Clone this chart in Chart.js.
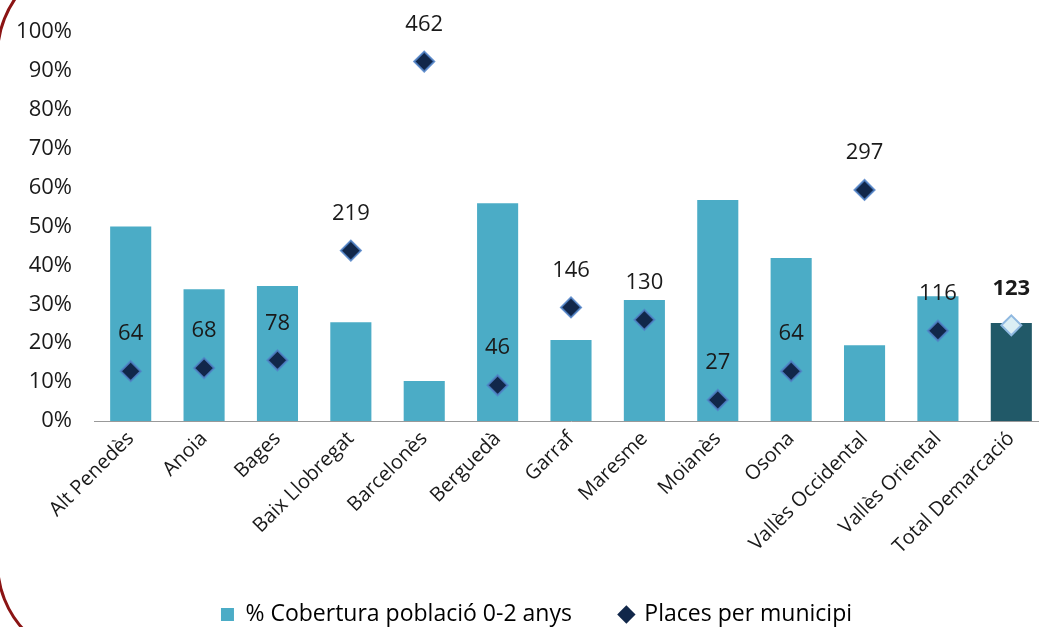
<!DOCTYPE html>
<html>
<head>
<meta charset="utf-8">
<script src="https://cdn.jsdelivr.net/npm/chart.js@4"></script>
<style>
html, body { margin: 0; padding: 0; background: #fff; overflow: hidden; }
#wrap { position: relative; width: 1060px; height: 636px; }
#frame {
  position: absolute; left: -4px; top: -45px; width: 1300px; height: 702px;
  border: 3px solid #8b1414; border-radius: 100px; pointer-events: none;
}
</style>
</head>
<body>
<div id="wrap">
  <canvas id="chart" width="1060" height="636"></canvas>
  <div id="frame"></div>
</div>
<script>
// categories
const comarques = ['Alt Penedès', 'Anoia', 'Bages', 'Baix Llobregat', 'Barcelonès', 'Berguedà',
  'Garraf', 'Maresme', 'Moianès', 'Osona', 'Vallès Occidental', 'Vallès Oriental', 'Total Demarcació'];

// % coverage of population 0-2 years
const cobertura = [50.0, 33.9, 34.7, 25.4, 10.3, 56.0, 20.8, 31.1, 56.8, 41.9, 19.5, 32.1, 25.2];

// places per municipality (plotted on hidden 0-500 axis)
const places = [64, 68, 78, 219, 462, 46, 146, 130, 27, 64, 297, 116, 123];

const yTicks = [0, 10, 20, 30, 40, 50, 60, 70, 80, 90, 100];

const barColors = comarques.map((c, i) => i === comarques.length - 1 ? '#215968' : '#4bacc6');
const diaFill = comarques.map((c, i) => i === comarques.length - 1 ? '#dbeef4' : '#11274a');
const diaBorder = comarques.map((c, i) => i === comarques.length - 1 ? '#8fb8e0' : 'rgba(80,130,200,0.85)');

const font = '"Open Sans", Lato, sans-serif';

// labels above the diamonds
const valueLabels = {
  id: 'valueLabels',
  afterDatasetsDraw(chart) {
    const ctx = chart.ctx;
    const meta = chart.getDatasetMeta(1);
    ctx.save();
    ctx.textAlign = 'center';
    ctx.textBaseline = 'middle';
    ctx.fillStyle = '#1a1a1a';
    meta.data.forEach((pt, i) => {
      const last = i === places.length - 1;
      ctx.font = (last ? 'bold ' : '') + '22px ' + font;
      ctx.fillText(String(places[i]), pt.x, pt.y - 37);
    });
    ctx.restore();
  }
};

new Chart(document.getElementById('chart'), {
  type: 'bar',
  data: {
    labels: comarques,
    datasets: [{
      label: '% Cobertura població 0-2 anys',
      data: cobertura,
      backgroundColor: barColors,
      barPercentage: 0.56,
      categoryPercentage: 1,
      pointStyle: 'rect',
      yAxisID: 'y',
      order: 2
    }, {
      type: 'line',
      label: 'Places per municipi',
      data: places,
      showLine: false,
      pointStyle: 'rectRot',
      pointRadius: 10,
      pointHoverRadius: 10,
      pointBackgroundColor: diaFill,
      pointBorderColor: diaBorder,
      pointBorderWidth: 2,
      backgroundColor: '#11274a',
      borderColor: '#11274a',
      yAxisID: 'y2',
      order: 1
    }]
  },
  options: {
    responsive: false,
    animation: false,
    layout: { padding: { top: 32, right: 4, left: 17, bottom: 0 } },
    plugins: {
      tooltip: { enabled: false },
      legend: {
        position: 'bottom',
        labels: {
          usePointStyle: true,
          boxWidth: 13,
          boxHeight: 13,
          padding: 48,
          color: '#222',
          font: { family: font, size: 23 },
          generateLabels(chart) {
            return chart.data.datasets.map((ds, i) => ({
              text: ds.label,
              fillStyle: i === 0 ? '#4bacc6' : '#11274a',
              strokeStyle: i === 0 ? '#4bacc6' : '#11274a',
              lineWidth: 0,
              pointStyle: ds.pointStyle,
              datasetIndex: i
            }));
          }
        }
      }
    },
    scales: {
      x: {
        grid: { display: false, drawTicks: false },
        border: { color: '#999', width: 1 },
        afterFit(axis) {
          axis.height = 134;
          axis.paddingLeft = 0;
          axis.paddingRight = 0;
        },
        ticks: {
          color: '#1a1a1a',
          font: { family: font, size: 20 },
          maxRotation: 45,
          minRotation: 45,
          autoSkip: false,
          padding: 6
        }
      },
      y: {
        min: 0,
        max: 100,
        afterBuildTicks(axis) { axis.ticks = yTicks.map(v => ({ value: v })); },
        afterFit(axis) {
          axis.width = 77;
          axis.paddingTop = 0;
          axis.paddingBottom = 0;
        },
        grid: { display: false, drawTicks: false },
        border: { display: false },
        ticks: {
          color: '#1a1a1a',
          font: { family: font, size: 22 },
          padding: 22,
          callback: v => v + '%'
        }
      },
      y2: {
        min: 0,
        max: 500,
        display: false
      }
    }
  },
  plugins: [valueLabels]
});
</script>
</body>
</html>
